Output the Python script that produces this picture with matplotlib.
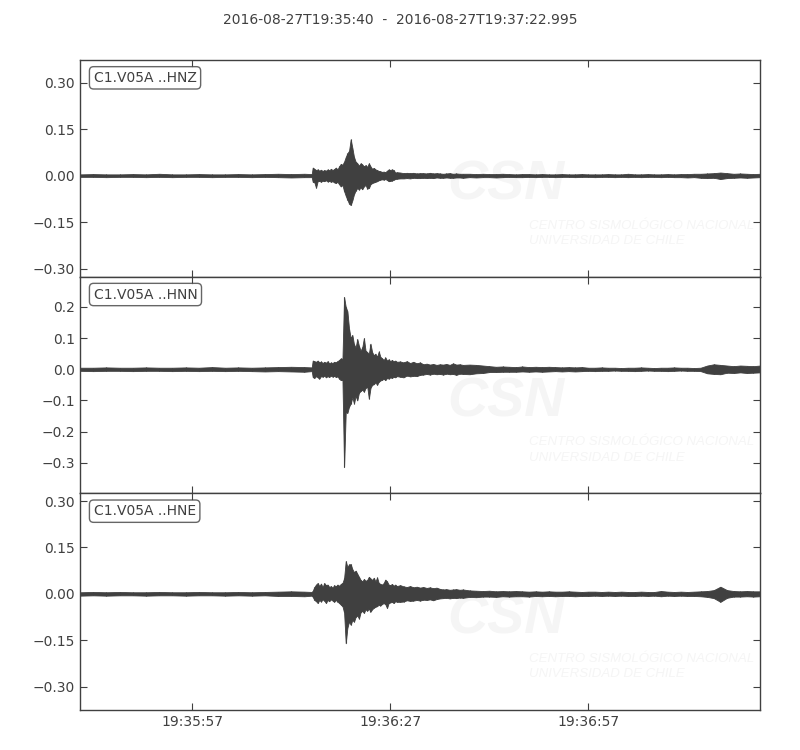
import matplotlib
matplotlib.use("Agg")
import matplotlib.dates as mdates
import matplotlib.pyplot as plt
import numpy as np
from matplotlib.ticker import FuncFormatter

# seconds after 2016-08-27T19:35:40, one min/max pair per time
times = [
    0, 2, 4, 6, 8, 10, 12, 14, 16, 18, 20, 22, 24, 26, 28, 30, 32, 34, 35.1,
    35.25, 35.5, 35.75, 36.0, 36.25, 36.5, 36.75, 37.0, 37.25, 37.5, 37.75, 38.0,
    38.25, 38.5, 38.75, 39.0, 39.25, 39.5, 39.75, 40.0, 40.25, 40.5, 40.75, 41.0,
    41.25, 41.5, 41.75, 42.0, 42.25, 42.5, 42.75, 43.0, 43.25, 43.5, 43.75, 44.0,
    44.25, 44.5, 44.75, 45.0, 45.25, 45.5, 45.75, 46.0, 46.25, 46.5, 46.75, 47.0,
    47.25, 47.5, 47.75, 48.0,
    48.5, 49.0, 49.5, 50.0, 50.5, 51.0, 51.5, 52.0, 52.5, 53.0, 53.5, 54.0,
    54.5, 55.0, 55.5, 56.0, 56.5, 57.0, 57.5, 58.0,
    59, 60, 61, 62, 63, 64, 65, 66, 67, 68, 69, 70, 71, 72, 73, 74, 75, 76, 77,
    78, 79, 80, 81, 82, 83, 84, 85, 86, 87, 88, 89, 90, 91, 92, 93, 94, 95, 96,
    97, 98, 99, 100, 101, 102, 103,
]

hnz_up = [
    0.004, 0.005, 0.004, 0.004, 0.005, 0.004, 0.006, 0.004, 0.004, 0.005, 0.004, 0.004,
    0.005, 0.004, 0.005, 0.006, 0.005, 0.006, 0.005,
    0.026, 0.022, 0.018, 0.020, 0.016, 0.019, 0.015, 0.018, 0.016, 0.020, 0.017, 0.022,
    0.018, 0.021, 0.026, 0.020, 0.030, 0.038, 0.035, 0.045, 0.060, 0.072, 0.080, 0.117,
    0.090, 0.060, 0.045, 0.040, 0.032, 0.040, 0.036, 0.030, 0.034, 0.028, 0.040, 0.030,
    0.022, 0.025, 0.020, 0.018, 0.015, 0.014, 0.012, 0.013, 0.011, 0.016, 0.020, 0.018,
    0.020, 0.018, 0.010, 0.011,
    0.010, 0.008, 0.009, 0.008, 0.009, 0.007, 0.008, 0.008, 0.007, 0.009, 0.007, 0.008,
    0.007, 0.006, 0.007, 0.008, 0.006, 0.007, 0.006, 0.006,
    0.006, 0.005, 0.006, 0.005, 0.005, 0.006, 0.005, 0.004, 0.005, 0.005,
    0.004, 0.005, 0.004, 0.004, 0.005, 0.004, 0.004, 0.005, 0.004, 0.004,
    0.004, 0.005, 0.004, 0.004, 0.006, 0.004, 0.004, 0.005, 0.004, 0.004,
    0.005, 0.004, 0.005, 0.005, 0.006, 0.006, 0.007, 0.008, 0.010, 0.008,
    0.006, 0.007, 0.006, 0.005, 0.006,
]
hnz_lo = [
    -0.004, -0.004, -0.005, -0.004, -0.004, -0.005, -0.004, -0.005, -0.004, -0.004,
    -0.005, -0.004, -0.004, -0.005, -0.004, -0.005, -0.006, -0.005, -0.005,
    -0.020, -0.022, -0.039, -0.018, -0.017, -0.020, -0.016, -0.018, -0.015, -0.019,
    -0.017, -0.020, -0.018, -0.022, -0.024, -0.020, -0.028, -0.035, -0.030, -0.050,
    -0.065, -0.078, -0.090, -0.095, -0.080, -0.060, -0.048, -0.040, -0.045, -0.038,
    -0.044, -0.035, -0.030, -0.042, -0.040, -0.028, -0.024, -0.022, -0.020, -0.018,
    -0.015, -0.013, -0.012, -0.013, -0.011, -0.014, -0.018, -0.017, -0.016, -0.013,
    -0.011, -0.010,
    -0.009, -0.009, -0.008, -0.009, -0.007, -0.008, -0.008, -0.007, -0.008, -0.007,
    -0.008, -0.006, -0.007, -0.007, -0.006, -0.007, -0.007, -0.006, -0.006, -0.007,
    -0.005, -0.006, -0.005, -0.005, -0.006, -0.005, -0.004, -0.005, -0.005, -0.004,
    -0.005, -0.004, -0.004, -0.005, -0.004, -0.004, -0.005, -0.004, -0.004, -0.005,
    -0.004, -0.004, -0.005, -0.004, -0.005, -0.004, -0.005, -0.004, -0.004, -0.005,
    -0.004, -0.005, -0.005, -0.006, -0.005, -0.007, -0.008, -0.007, -0.011, -0.008,
    -0.007, -0.006, -0.007, -0.006, -0.005,
]

hnn_up = [
    0.005, 0.005, 0.006, 0.005, 0.005, 0.006, 0.005, 0.005, 0.006, 0.005, 0.007, 0.005,
    0.006, 0.005, 0.006, 0.007, 0.008, 0.007, 0.006,
    0.028, 0.026, 0.024, 0.028, 0.022, 0.025, 0.020, 0.024, 0.021, 0.026, 0.019, 0.022,
    0.020, 0.024, 0.022, 0.026, 0.030, 0.035, 0.033, 0.232, 0.200, 0.186, 0.130, 0.100,
    0.110, 0.080, 0.070, 0.097, 0.075, 0.060, 0.070, 0.100, 0.060, 0.055, 0.050, 0.082,
    0.055, 0.045, 0.050, 0.040, 0.057, 0.040, 0.035, 0.030, 0.038, 0.028, 0.032, 0.026,
    0.030, 0.025, 0.028, 0.024,
    0.025, 0.022, 0.026, 0.020, 0.024, 0.019, 0.022, 0.016, 0.018, 0.015, 0.017, 0.014,
    0.016, 0.015, 0.017, 0.014, 0.019, 0.015, 0.016, 0.014,
    0.015, 0.014, 0.012,
    0.010, 0.008, 0.009, 0.008, 0.007, 0.009, 0.007, 0.008, 0.007, 0.008, 0.007, 0.006,
    0.007, 0.006, 0.007,
    0.005, 0.005, 0.006, 0.005, 0.005, 0.004, 0.005, 0.005, 0.006, 0.005, 0.004, 0.005,
    0.005, 0.006, 0.005, 0.005, 0.004, 0.005,
    0.012, 0.016, 0.014, 0.012, 0.010, 0.012, 0.011, 0.010, 0.012,
]
hnn_lo = [
    -0.005, -0.006, -0.005, -0.005, -0.006, -0.005, -0.005, -0.006, -0.005, -0.006,
    -0.005, -0.006, -0.005, -0.006, -0.007, -0.006, -0.007, -0.008, -0.006,
    -0.025, -0.028, -0.022, -0.026, -0.030, -0.022, -0.024, -0.020, -0.026, -0.022,
    -0.025, -0.020, -0.024, -0.021, -0.025, -0.023, -0.030, -0.035, -0.033, -0.314,
    -0.137, -0.140, -0.120, -0.110, -0.090, -0.110, -0.085, -0.100, -0.075, -0.070,
    -0.065, -0.072, -0.060, -0.055, -0.094, -0.060, -0.050, -0.048, -0.042, -0.050,
    -0.040, -0.036, -0.034, -0.030, -0.035, -0.028, -0.030, -0.026, -0.028, -0.024,
    -0.026, -0.022,
    -0.024, -0.026, -0.020, -0.023, -0.021, -0.022, -0.018, -0.017, -0.015, -0.017,
    -0.014, -0.016, -0.015, -0.017, -0.014, -0.016, -0.015, -0.018, -0.014, -0.015,
    -0.016, -0.013, -0.012,
    -0.009, -0.009, -0.008, -0.008, -0.008, -0.007, -0.008, -0.007, -0.008, -0.007,
    -0.006, -0.007, -0.006, -0.007, -0.006,
    -0.005, -0.006, -0.005, -0.005, -0.004, -0.005, -0.005, -0.006, -0.005, -0.004,
    -0.005, -0.005, -0.006, -0.005, -0.004, -0.005, -0.005, -0.006,
    -0.013, -0.015, -0.016, -0.011, -0.012, -0.010, -0.012, -0.011, -0.010,
]

hne_up = [
    0.005, 0.006, 0.005, 0.006, 0.005, 0.005, 0.006, 0.005, 0.005, 0.006, 0.005, 0.005,
    0.006, 0.005, 0.006, 0.007, 0.008, 0.007, 0.006,
    0.010, 0.022, 0.030, 0.035, 0.025, 0.033, 0.022, 0.035, 0.028, 0.030,
    0.022, 0.025, 0.020, 0.028, 0.024, 0.030, 0.026, 0.032, 0.035, 0.050,
    0.106, 0.087, 0.095, 0.096, 0.080, 0.070, 0.075, 0.065, 0.055, 0.045,
    0.040, 0.048, 0.042, 0.045, 0.055, 0.050, 0.045, 0.052, 0.040, 0.053,
    0.035, 0.032, 0.030, 0.035, 0.046, 0.040, 0.030, 0.028, 0.032, 0.026,
    0.030, 0.025,
    0.028, 0.024, 0.022, 0.025, 0.021, 0.023, 0.020, 0.022, 0.019, 0.021, 0.018, 0.020,
    0.016, 0.014, 0.015, 0.013, 0.014, 0.015, 0.013, 0.014,
    0.011, 0.010, 0.009, 0.010, 0.008, 0.009, 0.008, 0.009, 0.008, 0.007,
    0.008, 0.007, 0.008, 0.007, 0.007, 0.008, 0.007, 0.006, 0.007, 0.007,
    0.006, 0.007, 0.006, 0.007, 0.006, 0.006, 0.007, 0.006, 0.006, 0.009,
    0.007, 0.006, 0.007, 0.006, 0.007, 0.008, 0.009, 0.012, 0.023, 0.012,
    0.009, 0.008, 0.009, 0.008, 0.008,
]
hne_lo = [
    -0.006, -0.005, -0.006, -0.005, -0.005, -0.006, -0.005, -0.005, -0.006, -0.005,
    -0.005, -0.006, -0.005, -0.006, -0.005, -0.007, -0.007, -0.008, -0.006,
    -0.010, -0.020, -0.024, -0.030, -0.020, -0.025, -0.018, -0.022, -0.030, -0.020,
    -0.024, -0.018, -0.022, -0.026, -0.020, -0.025, -0.030, -0.035, -0.040, -0.060,
    -0.160, -0.110, -0.090, -0.100, -0.085, -0.090, -0.075, -0.070, -0.080, -0.060,
    -0.055, -0.062, -0.050, -0.055, -0.048, -0.058, -0.050, -0.045, -0.042, -0.040,
    -0.035, -0.038, -0.033, -0.030, -0.034, -0.046, -0.030, -0.028, -0.026, -0.030,
    -0.024, -0.026,
    -0.026, -0.025, -0.021, -0.023, -0.022, -0.020, -0.022, -0.019, -0.020, -0.018,
    -0.021, -0.017, -0.015, -0.014, -0.013, -0.015, -0.013, -0.014, -0.012, -0.013,
    -0.010, -0.011, -0.009, -0.009, -0.010, -0.008, -0.009, -0.008, -0.008, -0.009,
    -0.007, -0.008, -0.007, -0.008, -0.007, -0.007, -0.008, -0.007, -0.007, -0.006,
    -0.007, -0.006, -0.007, -0.006, -0.007, -0.007, -0.006, -0.007, -0.006, -0.008,
    -0.006, -0.007, -0.006, -0.007, -0.007, -0.008, -0.010, -0.014, -0.026, -0.013,
    -0.009, -0.009, -0.008, -0.009, -0.008,
]

channels = ["C1.V05A ..HNZ", "C1.V05A ..HNN", "C1.V05A ..HNE"]
ylims = [(-0.326, 0.373), (-0.398, 0.297), (-0.376, 0.325)]
yticks = [
    [-0.30, -0.15, 0.00, 0.15, 0.30],
    [-0.3, -0.2, -0.1, 0.0, 0.1, 0.2],
    [-0.30, -0.15, 0.00, 0.15, 0.30],
]
ytick_decimals = [2, 1, 2]

start = np.datetime64("2016-08-27T19:35:40.000")
end = np.datetime64("2016-08-27T19:37:22.995")
title = "2016-08-27T19:35:40  -  2016-08-27T19:37:22.995"

ink = "#404040"
mark = "#f5f5f5"
plt.rcParams["font.family"] = ["DejaVu Sans"]


def tick_fmt(decimals):
    return FuncFormatter(lambda v, pos: f"{v:.{decimals}f}".replace("-", "\u2212"))


fig, axes = plt.subplots(3, 1, figsize=(8, 7.5), dpi=100, sharex=True)
fig.subplots_adjust(left=0.1, right=0.95, top=0.92, bottom=0.0533, hspace=0)
fig.text(0.5, 0.973, title, ha="center", va="center", fontsize=10, color=ink)

x = start + (np.array(times) * 1000).astype("timedelta64[ms]")
traces = [(hnz_up, hnz_lo), (hnn_up, hnn_lo), (hne_up, hne_lo)]

for ax, (up, lo), label, ylim, ticks, dec in zip(axes, traces, channels, ylims, yticks, ytick_decimals):
    # min/max envelope of the trace, drawn like a dense waveform
    ax.fill_between(x, lo, up, facecolor=ink, edgecolor=ink, lw=0.6, zorder=3)
    ax.vlines(x, lo, up, color=ink, lw=0.8, zorder=3)

    # faint agency watermark
    ax.text(0.627, 0.42, "CSN", transform=ax.transAxes, ha="center", va="center",
            fontsize=40, fontweight="bold", fontstyle="italic", color=mark,
            family="Liberation Sans", zorder=1, clip_on=True)
    ax.text(0.66, 0.20, "CENTRO SISMOLÓGICO NACIONAL\nUNIVERSIDAD DE CHILE",
            transform=ax.transAxes, ha="left", va="center", fontsize=9.5,
            fontstyle="italic", color=mark, family="Liberation Sans",
            linespacing=1.35, zorder=1, clip_on=True)

    ax.set_ylim(*ylim)
    ax.set_yticks(ticks)
    ax.yaxis.set_major_formatter(tick_fmt(dec))
    ax.tick_params(direction="in", top=True, right=True, length=5, width=0.8,
                   colors=ink, labelsize=10, labelcolor=ink)
    for sp in ax.spines.values():
        sp.set_color(ink)
        sp.set_linewidth(1.0)
    ax.text(0.02, 0.95, label, transform=ax.transAxes, ha="left", va="top",
            fontsize=10, color=ink, zorder=5,
            bbox=dict(boxstyle="round", fc="white", ec=ink, alpha=0.8))

axes[-1].set_xlim(start, end)
axes[-1].xaxis.set_major_locator(mdates.SecondLocator(bysecond=[27, 57]))
axes[-1].xaxis.set_major_formatter(mdates.DateFormatter("%H:%M:%S"))

fig.savefig("out.png", dpi=100, facecolor="white")
